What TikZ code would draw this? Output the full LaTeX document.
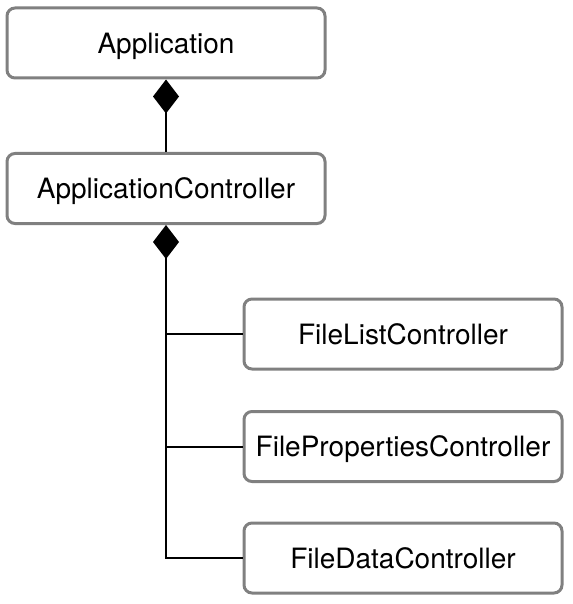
\documentclass[tikz,border=0pt]{standalone}
\usepackage{fontspec}
\setmainfont{TeX Gyre Heros}
\usetikzlibrary{arrows.meta, positioning}
\tikzset{
    class box/.style = {rectangle, rounded corners=8pt, draw=black!50, line width=3pt, fill=white, minimum width=318pt, minimum height=70pt, text depth=0pt, font=\fontsize{28}{34}\selectfont},
    class link/.style = {draw=black, line width=2pt},
    owner tip/.style = {-{Diamond[length=34pt, width=26pt, fill=black]}}
}

\begin{document}
\begin{tikzpicture}[x=1pt, y=1pt]
        \useasboundingbox (0,0) rectangle (572,-604);
        \node[class box] (appbox) at (166,-43) {Application};
        \node[class box] (ctrlbox) at (166,-188.5) {ApplicationController};
        \node[class box] (listbox) at (403,-334) {FileListController};
        \node[class box] (propbox) at (403,-446.5) {FilePropertiesController};
        \node[class box] (databox) at (403,-558) {FileDataController};

        \draw[class link, owner tip] (ctrlbox.north) -- (appbox.south);
        \draw[class link, owner tip] (databox.west) -| (ctrlbox.south);
        \draw[class link] (ctrlbox.south |- listbox.west) -- (listbox.west);
        \draw[class link] (ctrlbox.south |- propbox.west) -- (propbox.west);
    \end{tikzpicture}
\end{document}
